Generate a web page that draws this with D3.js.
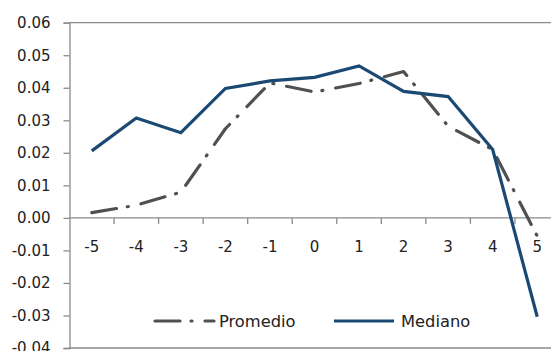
<!DOCTYPE html>
<html>
<head>
<meta charset="utf-8">
<script src="https://cdn.jsdelivr.net/npm/d3@7/dist/d3.min.js"></script>
<style>
  html, body { margin: 0; padding: 0; background: #fff; }
  svg { display: block; }
  text { font-family: "DejaVu Sans", Verdana, sans-serif; fill: #222; }
</style>
</head>
<body>
<svg id="chart" width="551" height="351"></svg>
<script>
// Event window (periods relative to the event)
const categories = ["-5", "-4", "-3", "-2", "-1", "0", "1", "2", "3", "4", "5"];
// Mean and median response per period
const promedio = [0.0016, 0.0039, 0.0079, 0.0274, 0.0415, 0.0387, 0.0413, 0.0450, 0.0282, 0.0210, -0.0056];
const mediano  = [0.0206, 0.0307, 0.0262, 0.0398, 0.0421, 0.0432, 0.0467, 0.0389, 0.0373, 0.0210, -0.0304];
const yTicks = [0.06, 0.05, 0.04, 0.03, 0.02, 0.01, 0.00, -0.01, -0.02, -0.03, -0.04];
const seriesNames = ["Promedio", "Mediano"];

const svg = d3.select("#chart");
const plot = { left: 69.5, right: 559.5, top: 22.7, bottom: 348 };
const axisColor = "#8a8a8a";
const grey = "#505050";
const blue = "#1a4a73";

const x = d3.scaleBand().domain(categories).range([plot.left, plot.right]).padding(0);
const y = d3.scaleLinear().domain([-0.04, 0.06]).range([plot.bottom, plot.top]);
const cx = c => x(c) + x.bandwidth() / 2;

// Plot frame: top and bottom borders
svg.append("line").attr("x1", plot.left).attr("x2", plot.right)
  .attr("y1", y(0.06)).attr("y2", y(0.06))
  .attr("stroke", axisColor).attr("stroke-width", 1.3);
svg.append("line").attr("x1", plot.left).attr("x2", plot.right)
  .attr("y1", y(-0.04)).attr("y2", y(-0.04))
  .attr("stroke", axisColor).attr("stroke-width", 1.3);

// Y axis
const yAxis = d3.axisLeft(y).tickValues(yTicks).tickFormat(d3.format(".2f")).tickSize(6).tickPadding(13);
const gy = svg.append("g").attr("transform", `translate(${plot.left},0)`).call(yAxis);
gy.select(".domain").attr("stroke", axisColor).attr("stroke-width", 1.3);
gy.selectAll(".tick line").attr("stroke", axisColor).attr("stroke-width", 1.3);
gy.selectAll(".tick text").style("font-size", "15px").attr("fill", "#222")
  .text(d => d3.format(".2f")(d).replace("−", "-"));

// X axis on the zero line, ticks at category boundaries
const gx = svg.append("g").attr("transform", `translate(0,${y(0)})`);
gx.append("line").attr("x1", plot.left).attr("x2", plot.right)
  .attr("stroke", axisColor).attr("stroke-width", 1.3);
gx.selectAll("line.bound").data(categories.slice(1)).enter().append("line")
  .attr("class", "bound")
  .attr("x1", d => x(d)).attr("x2", d => x(d))
  .attr("y1", 0).attr("y2", 6)
  .attr("stroke", axisColor).attr("stroke-width", 1.3);
gx.selectAll("text").data(categories).enter().append("text")
  .attr("x", d => cx(d)).attr("y", 34.5)
  .attr("text-anchor", "middle")
  .style("font-size", "15px")
  .text(d => d);

// Series lines
const line = d3.line().x((d, i) => cx(categories[i])).y(d => y(d));
svg.append("path").datum(promedio).attr("d", line)
  .attr("fill", "none").attr("stroke", grey).attr("stroke-width", 3.2)
  .attr("stroke-dasharray", "25,11,1,13").attr("stroke-linecap", "round")
  .attr("stroke-linejoin", "round");
svg.append("path").datum(mediano).attr("d", line)
  .attr("fill", "none").attr("stroke", blue).attr("stroke-width", 3.2)
  .attr("stroke-linejoin", "miter");

// Legend
const legY = 321;
const leg = svg.append("g");
leg.append("line").attr("x1", 155).attr("x2", 214).attr("y1", legY).attr("y2", legY)
  .attr("stroke", grey).attr("stroke-width", 3.2)
  .attr("stroke-dasharray", "25,11,1,13").attr("stroke-linecap", "round");
leg.append("text").attr("x", 219).attr("y", legY + 6.3).style("font-size", "16.3px").text(seriesNames[0]);
leg.append("line").attr("x1", 334).attr("x2", 394).attr("y1", legY).attr("y2", legY)
  .attr("stroke", blue).attr("stroke-width", 3.2);
leg.append("text").attr("x", 401).attr("y", legY + 6.3).style("font-size", "16.3px").text(seriesNames[1]);
</script>
</body>
</html>
